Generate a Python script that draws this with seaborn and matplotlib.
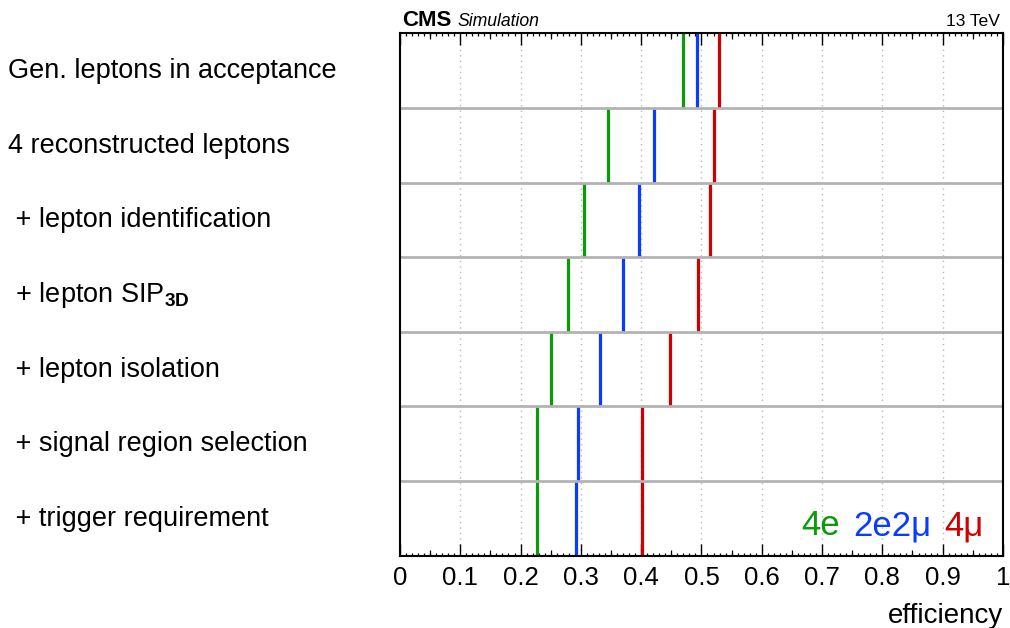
import matplotlib

matplotlib.use("Agg")
import matplotlib.pyplot as plt
import matplotlib.transforms as mtransforms
import numpy as np
import pandas as pd
import seaborn as sns
from matplotlib.ticker import MultipleLocator

# selection steps (top to bottom)
steps = [
    "Gen. leptons in acceptance",
    "4 reconstructed leptons",
    " + lepton identification",
    " + lepton SIP$_{\\mathbf{3D}}$",
    " + lepton isolation",
    " + signal region selection",
    " + trigger requirement",
]

# efficiency per channel
eff_4e = [0.470, 0.345, 0.306, 0.279, 0.251, 0.228, 0.227]
eff_2e2mu = [0.493, 0.421, 0.396, 0.370, 0.332, 0.296, 0.292]
eff_4mu = [0.529, 0.520, 0.514, 0.495, 0.448, 0.402, 0.402]

channels = ["4e", "2e2mu", "4mu"]
colors = {"4e": "#0a9a0a", "2e2mu": "#0a3cff", "4mu": "#d00000"}

df = pd.DataFrame(
    {
        "step": np.tile(np.arange(len(steps)), 3),
        "eff": eff_4e + eff_2e2mu + eff_4mu,
        "channel": np.repeat(channels, len(steps)),
    }
)

sns.set_theme(style="white")
plt.rcParams["font.family"] = ["Liberation Sans", "DejaVu Sans"]
plt.rcParams["mathtext.fontset"] = "custom"
plt.rcParams["mathtext.rm"] = "Liberation Sans"
plt.rcParams["mathtext.bf"] = "Liberation Sans:bold"
plt.rcParams["text.color"] = "black"
plt.rcParams["axes.labelcolor"] = "black"
plt.rcParams["xtick.color"] = "black"
plt.rcParams["xtick.labelcolor"] = "black"

fig = plt.figure(figsize=(10.1, 6.28), dpi=100)
ax = fig.add_axes([0.396, 0.115, 0.597, 0.832])

ax.set_xlim(0, 1)
ax.set_ylim(len(steps) - 0.5, -0.5)

# vertical dotted grid
for gx in np.arange(0.1, 1.0, 0.1):
    ax.axvline(gx, color="#b8b8b8", lw=1.0, ls=(0, (1, 3)), zorder=0)

# one vertical tick per channel and step, spanning the row height
row_px = 0.832 * 628 / len(steps)
sns.scatterplot(
    data=df,
    x="eff",
    y="step",
    hue="channel",
    palette=colors,
    marker="|",
    s=(row_px * 0.72) ** 2,
    linewidth=2.3,
    legend=False,
    ax=ax,
    zorder=2,
)

# row separators
for k in range(len(steps) - 1):
    ax.axhline(k + 0.5, color="#b3b3b3", lw=2.0, zorder=3)

ax.set_ylabel("")
ax.set_yticks([])
for sp in ax.spines.values():
    sp.set_linewidth(1.5)
    sp.set_color("black")
    sp.set_zorder(5)

ax.xaxis.set_major_locator(MultipleLocator(0.1))
ax.xaxis.set_minor_locator(MultipleLocator(0.01))
ax.set_xticks(np.round(np.arange(0, 1.01, 0.1), 1))
ax.set_xticklabels(["0", "0.1", "0.2", "0.3", "0.4", "0.5", "0.6", "0.7", "0.8", "0.9", "1"])
ax.tick_params(axis="x", which="major", direction="in", length=8.5, width=1.0,
               top=True, bottom=True, labelsize=18.5, pad=7, color="black")
ax.tick_params(axis="x", which="minor", direction="in", length=2.5, width=0.9,
               top=True, bottom=True, color="black")

# medium ticks at 0.05 like ROOT
for loc in ["bottom", "top"]:
    sec = ax.secondary_xaxis(loc)
    sec.set_xticks(np.arange(0.05, 1.0, 0.1))
    sec.tick_params(direction="in", length=4.5, width=0.9, labelbottom=False,
                    labeltop=False, color="black")
    sec.spines[loc].set_visible(False)
    sec.set_xticklabels([])

ax.set_xlabel("efficiency", loc="right", fontsize=20, labelpad=10, color="black")

# step labels on the left
trans = mtransforms.blended_transform_factory(fig.transFigure, ax.transData)
for i, lab in enumerate(steps):
    ax.text(0.008, i + 0.10, lab, transform=trans, fontsize=19.5,
            ha="left", va="baseline", color="black")

# header
ax.annotate("CMS", xy=(0.003, 1), xycoords="axes fraction", xytext=(0, 5),
            textcoords="offset points", fontsize=16, fontweight="bold",
            ha="left", va="baseline", color="black")
ax.annotate("Simulation", xy=(0.096, 1), xycoords="axes fraction", xytext=(0, 5),
            textcoords="offset points", fontsize=12.7, fontstyle="italic",
            ha="left", va="baseline", color="black")
ax.annotate("13 TeV", xy=(0.995, 1), xycoords="axes fraction", xytext=(0, 5),
            textcoords="offset points", fontsize=12.6, ha="right", va="baseline",
            color="black")

# channel legend
leg_items = [("4e", "4e", 0.665), ("2e2\u03bc", "2e2mu", 0.751), ("4\u03bc", "4mu", 0.903)]
for txt, ch, xpos in leg_items:
    ax.text(xpos, 0.039, txt, transform=ax.transAxes, fontsize=25,
            color=colors[ch], ha="left", va="baseline")

fig.savefig("out.png", dpi=100)
